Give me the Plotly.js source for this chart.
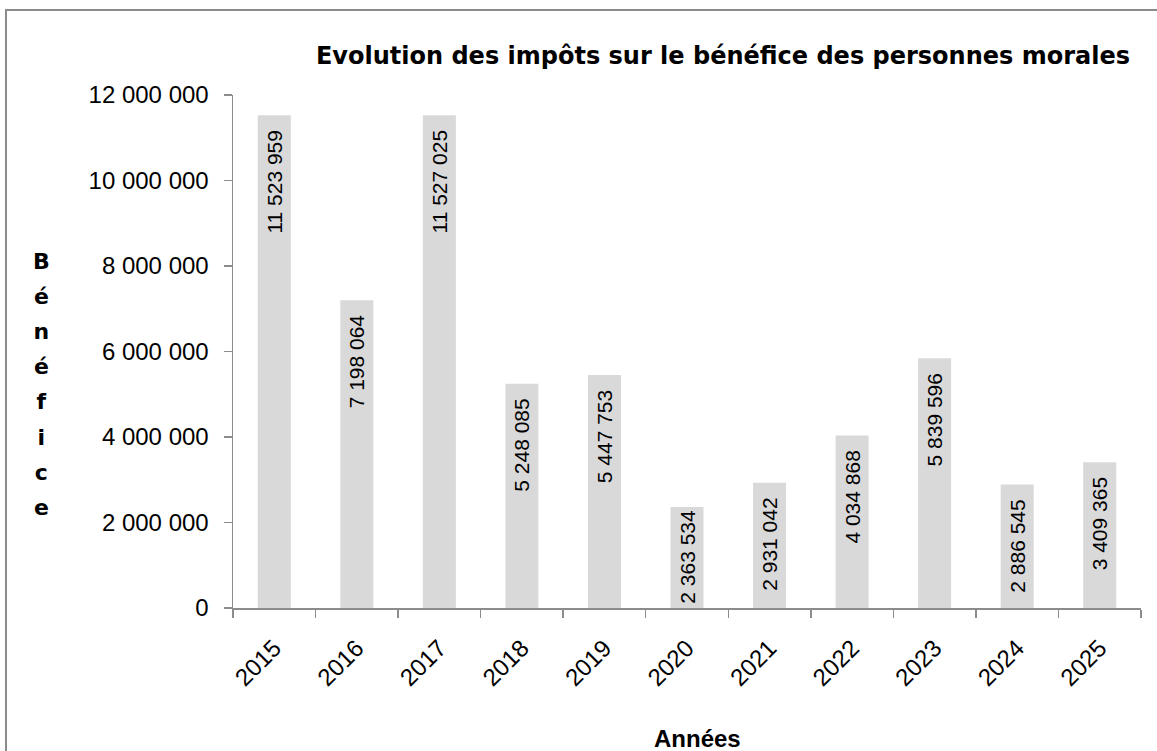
<!DOCTYPE html>
<html>
<head>
<meta charset="utf-8">
<script src="https://cdn.plot.ly/plotly-3.0.1.min.js"></script>
<style>html,body{margin:0;padding:0;background:#fff;}#chart{width:1157px;height:751px;}</style>
</head>
<body>
<div id="chart"></div>
<script>
const years = ['2015','2016','2017','2018','2019','2020','2021','2022','2023','2024','2025'];
const benefice = [11523959, 7198064, 11527025, 5248085, 5447753, 2363534, 2931042, 4034868, 5839596, 2886545, 3409365];
const yTicks = [0, 2000000, 4000000, 6000000, 8000000, 10000000, 12000000];
const chartTitle = 'Evolution des impôts sur le bénéfice des personnes morales';
const yTitle = 'Bénéfice';
const xTitle = 'Années';

const W = 1157, H = 751;
const L = 233, R = 16, T = 95, B = 143;
const pw = W - L - R, ph = H - T - B;
const yMax = 12000000;
const px = v => (v - L) / pw;
const py = v => (H - B - v) / ph;

const LABEL_SIZE = 21;
const fmt = n => String(n).replace(/\B(?=(\d{3})+(?!\d))/g, ' ');
// approximate rendered length of a label (Arial metrics) to decide whether extra top padding fits
const labelLen = s => s.split('').reduce((a, c) => a + (c === ' ' ? 0.278 : 0.556), 0) * LABEL_SIZE;
const NBSP = '\u00a0';
const labels = benefice.map(v => {
  const s = fmt(v);
  const barPx = v / yMax * ph;
  return (labelLen(s) + 2 * 0.278 * LABEL_SIZE + 8 <= barPx) ? s + NBSP + NBSP : s;
});

const trace = {
  type: 'bar',
  x: years,
  y: benefice,
  marker: {color: '#d9d9d9'},
  text: labels,
  textposition: 'inside',
  insidetextanchor: 'end',
  textangle: -90,
  constraintext: 'none',
  textfont: {family: 'Liberation Sans, Arial, sans-serif', size: LABEL_SIZE, color: '#000'},
  hoverinfo: 'none'
};

const annotations = [
  {
    xref: 'paper', yref: 'paper', x: px(41), y: py(384), xanchor: 'center', yanchor: 'middle',
    showarrow: false, align: 'center',
    text: yTitle.split('').map(c => '<span style="font-size:22px">' + c + '</span>').join('<br>'),
    font: {family: 'DejaVu Sans, Verdana, sans-serif', size: 27, weight: 'bold', color: '#000'}
  },
  {
    xref: 'paper', yref: 'paper', x: px(697), y: py(738), xanchor: 'center', yanchor: 'middle',
    showarrow: false, text: xTitle,
    font: {family: 'Liberation Sans, Arial, sans-serif', size: 24, weight: 'bold', color: '#000'}
  }
];

const layout = {
  width: W, height: H,
  margin: {l: L, r: R, t: T, b: B, pad: 0},
  paper_bgcolor: '#fff', plot_bgcolor: '#fff',
  separators: ', ',
  showlegend: false,
  bargap: 0.6,
  title: {
    text: chartTitle,
    x: 723 / W, xref: 'container', xanchor: 'center',
    y: 1 - 56 / H, yref: 'container', yanchor: 'middle',
    font: {family: 'DejaVu Sans, Verdana, sans-serif', size: 24, weight: 'bold', color: '#000'}
  },
  xaxis: {
    type: 'category',
    showgrid: false, zeroline: false,
    showline: true, linecolor: '#8c8c8c', linewidth: 1.5,
    ticks: 'outside', ticklen: 8, tickcolor: '#8c8c8c', tickwidth: 1.5,
    tickson: 'boundaries',
    tickangle: -45,
    ticklabelstandoff: 15,
    tickfont: {family: 'Liberation Sans, Arial, sans-serif', size: 24, color: '#000'},
    automargin: false
  },
  yaxis: {
    range: [0, yMax],
    tickvals: yTicks,
    tickformat: ',d',
    showgrid: false, zeroline: false,
    showline: true, linecolor: '#8c8c8c', linewidth: 1.5,
    ticks: 'outside', ticklen: 8, tickcolor: '#8c8c8c', tickwidth: 1.5,
    ticklabelstandoff: 10,
    tickfont: {family: 'Liberation Sans, Arial, sans-serif', size: 24, color: '#000'},
    automargin: false
  },
  annotations: annotations,
  shapes: [{
    type: 'rect', xref: 'paper', yref: 'paper',
    x0: px(6), x1: px(1170), y0: py(770), y1: py(10),
    line: {color: '#8c8c8c', width: 2}, fillcolor: 'rgba(0,0,0,0)', layer: 'above'
  }]
};

Plotly.newPlot('chart', [trace], layout, {displayModeBar: false, staticPlot: true});
</script>
</body>
</html>
